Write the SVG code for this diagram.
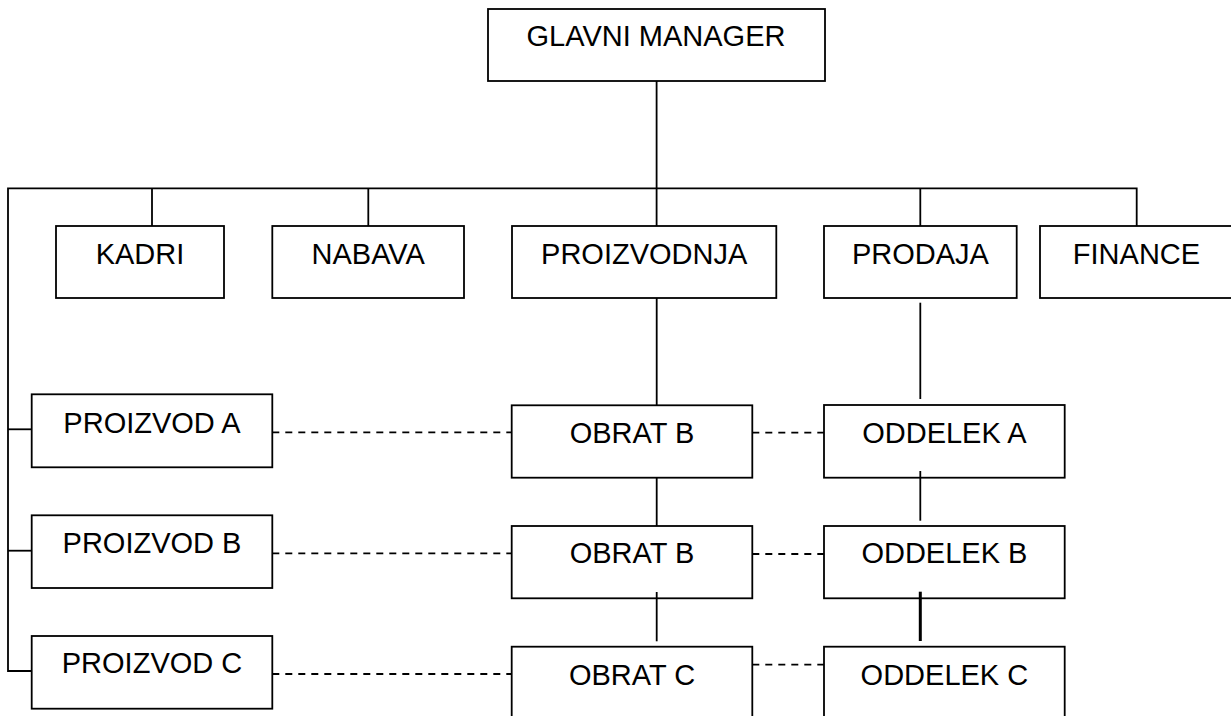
<svg xmlns="http://www.w3.org/2000/svg" width="1231" height="716" viewBox="0 0 1231 716">
  <style>
    .box { fill: #ffffff; stroke: #000000; stroke-width: 1.8; }
    .lbl { font-family: "Liberation Sans", Arial, sans-serif; font-size: 29px; fill: #000000; text-anchor: middle; }
    .ln { fill: none; stroke: #000000; stroke-width: 1.8; }
    .thick { fill: none; stroke: #000000; stroke-width: 3; }
    .dash { fill: none; stroke: #000000; stroke-width: 1.8; stroke-dasharray: 7 6; }
  </style>
  <rect width="1231" height="716" fill="#ffffff"/>

  <!-- top level -->
  <g id="glavni-manager">
    <rect class="box" x="488" y="9" width="337" height="72"/>
    <text class="lbl" x="656" y="46">GLAVNI MANAGER</text>
  </g>

  <!-- departments -->
  <g id="kadri">
    <rect class="box" x="56" y="226" width="168" height="72"/>
    <text class="lbl" x="140" y="264">KADRI</text>
  </g>
  <g id="nabava">
    <rect class="box" x="272.3" y="226" width="191.7" height="72"/>
    <text class="lbl" x="368.2" y="264">NABAVA</text>
  </g>
  <g id="proizvodnja">
    <rect class="box" x="512" y="226" width="264.3" height="72"/>
    <text class="lbl" x="644.2" y="264">PROIZVODNJA</text>
  </g>
  <g id="prodaja">
    <rect class="box" x="824" y="226" width="192.7" height="72"/>
    <text class="lbl" x="920.4" y="264">PRODAJA</text>
  </g>
  <g id="finance">
    <rect class="box" x="1040" y="226" width="193" height="72"/>
    <text class="lbl" x="1136.5" y="264">FINANCE</text>
  </g>

  <!-- products -->
  <g id="proizvod-a">
    <rect class="box" x="31.7" y="394.3" width="240.6" height="73"/>
    <text class="lbl" x="152" y="432.7">PROIZVOD A</text>
  </g>
  <g id="proizvod-b">
    <rect class="box" x="31.7" y="515.3" width="240.6" height="72.7"/>
    <text class="lbl" x="152" y="552.7">PROIZVOD B</text>
  </g>
  <g id="proizvod-c">
    <rect class="box" x="31.7" y="636" width="240.6" height="72.7"/>
    <text class="lbl" x="152" y="673.3">PROIZVOD C</text>
  </g>

  <!-- plants -->
  <g id="obrat-b-1">
    <rect class="box" x="511.7" y="405.3" width="240.6" height="72.4"/>
    <text class="lbl" x="632" y="442.7">OBRAT B</text>
  </g>
  <g id="obrat-b-2">
    <rect class="box" x="511.7" y="526" width="240.6" height="72.3"/>
    <text class="lbl" x="632" y="563.3">OBRAT B</text>
  </g>
  <g id="obrat-c">
    <rect class="box" x="511.7" y="646.7" width="240.6" height="80"/>
    <text class="lbl" x="632" y="685">OBRAT C</text>
  </g>

  <!-- sales sections -->
  <g id="oddelek-a">
    <rect class="box" x="824" y="405" width="240.7" height="72.7"/>
    <text class="lbl" x="944.4" y="442.7">ODDELEK A</text>
  </g>
  <g id="oddelek-b">
    <rect class="box" x="824" y="526" width="240.7" height="72.3"/>
    <text class="lbl" x="944.4" y="563.3">ODDELEK B</text>
  </g>
  <g id="oddelek-c">
    <rect class="box" x="824" y="646.7" width="240.7" height="80"/>
    <text class="lbl" x="944.4" y="685">ODDELEK C</text>
  </g>

  <g id="connectors">
    <!-- hierarchy -->
    <path class="ln" d="M656.6 81 V226"/>
    <path class="ln" d="M32 671 H8 V188.3 H1136.7 V226"/>
    <path class="ln" d="M152 188.3 V226"/>
    <path class="ln" d="M368.3 188.3 V226"/>
    <path class="ln" d="M920.3 188.3 V226"/>
    <path class="ln" d="M8 429.3 H32"/>
    <path class="ln" d="M8 550.7 H32"/>
    <path class="ln" d="M656.7 298 V405.3"/>
    <path class="ln" d="M656.7 477.7 V526"/>
    <path class="ln" d="M656.7 592 V641.3"/>
    <path class="ln" d="M920.3 302.7 V399"/>
    <path class="ln" d="M920.3 471 V520.7"/>
    <path class="thick" d="M920.3 591.7 V641"/>
    <!-- cross links -->
    <path class="dash" d="M272.3 432.3 H511.7"/>
    <path class="dash" d="M272.3 553.3 H511.7"/>
    <path class="dash" d="M272.3 674 H511.7"/>
    <path class="dash" d="M752.3 432.7 H824"/>
    <path class="dash" d="M752.3 554 H824"/>
    <path class="dash" d="M752.3 664.7 H824"/>
  </g>
</svg>
